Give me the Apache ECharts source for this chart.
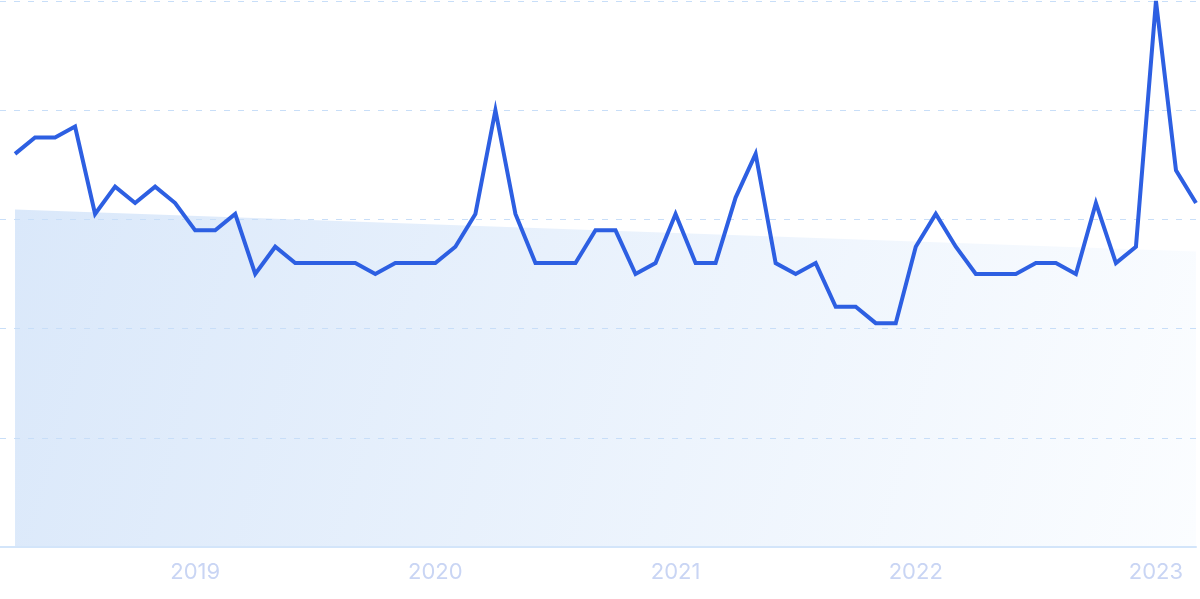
<!DOCTYPE html>
<html>
<head>
<meta charset="utf-8">
<script src="https://cdn.jsdelivr.net/npm/echarts@6/dist/echarts.min.js"></script>
<style>
html,body{margin:0;padding:0;background:#fff;}
#chart{width:1200px;height:599px;}
</style>
</head>
<body>
<div id="chart"></div>
<script>
// Monthly points, Apr 2018 .. Mar 2023
var values = [72, 75, 75, 77, 61, 66, 63, 66, 63, 58, 58, 61,
              50, 55, 52, 52, 52, 52, 50, 52, 52, 52, 55, 61,
              80, 61, 52, 52, 52, 58, 58, 50, 52, 61, 52, 52,
              64, 72, 52, 50, 52, 44, 44, 41, 41, 55, 61, 55,
              50, 50, 50, 52, 52, 50, 63, 52, 55, 100, 69, 63];
// trend (start, end)
var trendValues = [61.8, 54.1];
// year labels and their month index
var yearLabels = ['2019', '2020', '2021', '2022', '2023'];
var yearIndex = [9, 21, 33, 45, 57];

var lineData = values.map(function (v, i) { return [i, v]; });
var trendData = [[0, trendValues[0]], [values.length - 1, trendValues[1]]];

var chart = echarts.init(document.getElementById('chart'));
chart.setOption({
  animation: false,
  grid: { left: 0, right: 4, top: 1, bottom: 52 },
  xAxis: {
    type: 'value',
    min: -0.75,
    max: values.length - 1,
    z: 2,
    axisLine: { show: true, lineStyle: { color: '#d3e5fa', width: 2 } },
    axisTick: { show: false },
    splitLine: { show: false },
    axisLabel: {
      customValues: yearIndex,
      formatter: function (v) {
        var k = yearIndex.indexOf(Math.round(v));
        return k >= 0 ? yearLabels[k] : '';
      },
      color: '#c9d5f4',
      fontFamily: 'Inter',
      fontSize: 22,
      margin: 14
    }
  },
  yAxis: {
    type: 'value',
    min: 0,
    max: 100,
    interval: 20,
    z: 2,
    axisLine: { show: false },
    axisTick: { show: false },
    axisLabel: { show: false },
    splitLine: { show: true, lineStyle: { color: '#c8def8', type: [6, 8], width: 1.2 } }
  },
  series: [
    {
      type: 'line',
      data: trendData,
      symbol: 'none',
      silent: true,
      lineStyle: { width: 0 },
      areaStyle: {
        opacity: 1,
        color: new echarts.graphic.LinearGradient(0, 0, 1, 1, [
          { offset: 0, color: '#dae8fa' },
          { offset: 1, color: '#fbfdff' }
        ])
      },
      z: 1
    },
    {
      type: 'line',
      data: lineData,
      symbol: 'none',
      lineStyle: { color: '#2d5fe2', width: 4, join: 'miter' },
      z: 3
    }
  ]
});
</script>
</body>
</html>
